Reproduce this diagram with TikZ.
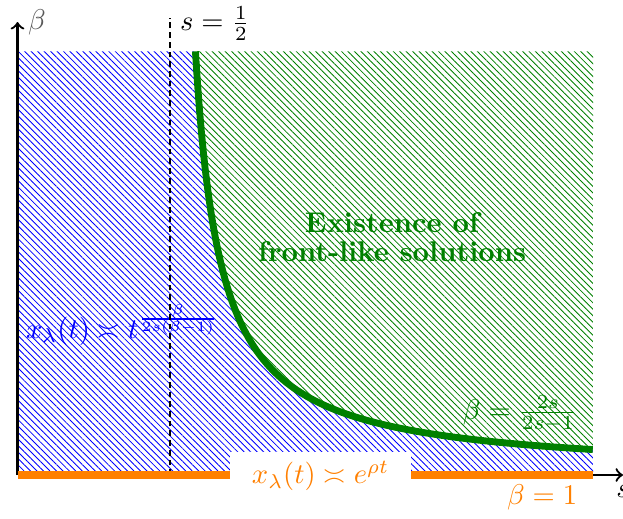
\documentclass[tikz,border=0pt]{standalone}
\usetikzlibrary{patterns.meta}
\definecolor{dkgreen}{RGB}{0,128,0}
\begin{document}
\begin{tikzpicture}[x=106.75pt, y=24.71pt,
  hatchblue/.style={pattern={Lines[angle=-45,distance=1.6pt,line width=0.3pt]}, pattern color=blue},
  hatchgreen/.style={pattern={Lines[angle=-45,distance=1.6pt,line width=0.3pt]}, pattern color=dkgreen},
  axisarrow/.style={thick,->},
  curveline/.style={dkgreen, line width=2.4pt},
  orangeline/.style={orange, line width=2.8pt},
  ]
\useasboundingbox (-0.0574,-0.609) rectangle (1.9852,6.728);
\def\smax{1.887}
% labels under the hatching
\node[text=blue] (blab) at (0.344,2.127) {$x_\lambda(t)\asymp t^{\frac{\beta}{2s(\beta-1)}}$};
\node[text=dkgreen, font=\bfseries, align=center] (exist) at (1.228,3.37) {Existence of\\[-1.6pt] front-like solutions};
\node[text=dkgreen] (glab) at (1.6475,0.864) {$\beta=\frac{2s}{2s-1}$};
% hatched regions
\fill[hatchblue] (0,0) -- (0,6) -- (0.58333,6) -- plot[domain=0.58333:\smax, samples=200] (\x,{1/(2*\x-1)}) -- (\smax,0) -- cycle;
\fill[hatchgreen] (0.58333,6) -- plot[domain=0.58333:\smax, samples=200] (\x,{1/(2*\x-1)}) -- (\smax,6) -- cycle;
% axes
\coordinate (O) at (0,0);
\coordinate (ytip) at (0,6.416);
\coordinate (xtip) at (1.985,0);
\draw[axisarrow] (O) -- (ytip) node[right, text=black!65] (blbl) {$\beta$};
\draw[axisarrow] (O) -- (xtip) node[below] (slbl) {$s$};
% dashed line s=1/2
\coordinate (hb) at (0.5,0);
\coordinate (ht) at (0.5,6.473);
\draw[line width=0.9pt, dash pattern=on 2pt off 1.4pt] (hb) -- (ht);
\node[right] (shalf) at (0.5,6.40) {$s=\frac12$};
% curve
\draw[curveline] plot[domain=0.58333:\smax, samples=200] (\x,{1/(2*\x-1)});
% beta = 1
\coordinate (oend) at (\smax,0);
\draw[orangeline] (O) -- (oend);
\node[fill=white, text=orange, inner xsep=7.5pt, inner ysep=3.3pt] (rho) at (0.9934,-0.014) {$x_\lambda(t)\asymp e^{\rho t}$};
\node[text=orange] (b1) at (1.72,-0.3116) {$\beta=1$};
\end{tikzpicture}
\end{document}
